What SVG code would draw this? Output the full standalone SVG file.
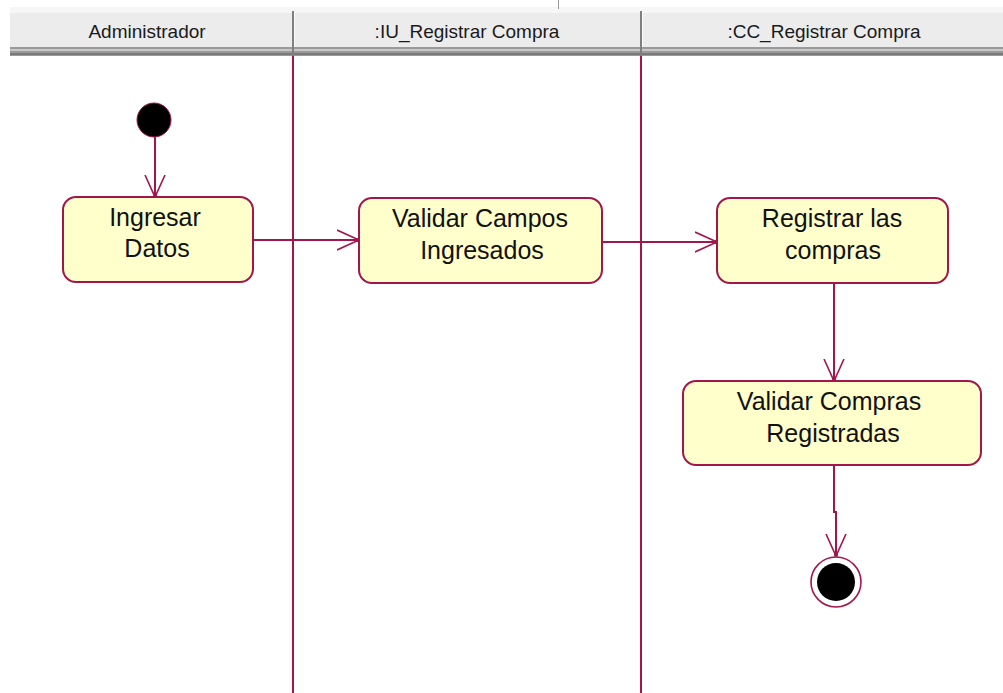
<svg xmlns="http://www.w3.org/2000/svg" width="1003" height="693" viewBox="0 0 1003 693">
  <style>
    .hdr-text { font-family: "Liberation Sans", Arial, sans-serif; font-size: 19px; fill: #1a1a1a; text-anchor: middle; }
    .lane { stroke: #a3164c; stroke-width: 2; fill: none; }
    .act { fill: #ffffcc; stroke: #a3164c; stroke-width: 2; }
    .act-text { font-family: "Liberation Sans", Arial, sans-serif; font-size: 25px; fill: #111; text-anchor: middle; }
    .flow { stroke: #a3164c; stroke-width: 2; fill: none; }
  </style>
  <defs>
    <marker id="open-arrow" viewBox="0 0 24 24" refX="22" refY="12" markerWidth="24" markerHeight="24" markerUnits="userSpaceOnUse" orient="auto">
      <path d="M0,2 L22,12 L0,22" fill="none" stroke="#a3164c" stroke-width="1.6"/>
      <circle cx="21" cy="12" r="2" fill="#a3164c"/>
    </marker>
  </defs>

  <rect width="1003" height="693" fill="#ffffff"/>

  <!-- swimlane header bar -->
  <g id="header">
    <rect x="10" y="7" width="993" height="6" fill="#f6f6f6"/>
    <rect x="10" y="13" width="993" height="35" fill="#ececec"/>
    <rect x="10" y="47" width="993" height="9" fill="#9a9a9a"/>
    <rect x="10" y="49" width="993" height="2" fill="#c8c8c8"/>
    <rect x="10" y="53" width="993" height="2" fill="#7a7a7a"/>
    <rect x="292" y="11" width="2" height="45" fill="#7f7f7f"/>
    <rect x="294" y="11" width="1" height="36" fill="#fafafa"/>
    <rect x="640" y="11" width="2" height="45" fill="#7f7f7f"/>
    <rect x="642" y="11" width="1" height="36" fill="#fafafa"/>
    <rect x="558" y="0" width="1" height="9" fill="#9a9a9a"/>
    <text class="hdr-text" x="147" y="38">Administrador</text>
    <text class="hdr-text" x="467" y="38">:IU_Registrar Compra</text>
    <text class="hdr-text" x="824" y="38">:CC_Registrar Compra</text>
  </g>

  <!-- lane separators -->
  <g id="lanes">
    <line class="lane" x1="293" y1="56" x2="293" y2="693"/>
    <line class="lane" x1="641" y1="56" x2="641" y2="693"/>
  </g>

  <!-- control flows -->
  <g id="connectors">
    <line class="flow" x1="155" y1="137" x2="155" y2="197" marker-end="url(#open-arrow)"/>
    <line class="flow" x1="253" y1="240" x2="359" y2="240" marker-end="url(#open-arrow)"/>
    <line class="flow" x1="602" y1="242" x2="717" y2="242" marker-end="url(#open-arrow)"/>
    <line class="flow" x1="834" y1="283" x2="834" y2="381" marker-end="url(#open-arrow)"/>
    <path class="flow" d="M834,465 L834,512 L836,512 L836,556" marker-end="url(#open-arrow)"/>
  </g>

  <g id="initial">
    <circle cx="154" cy="120" r="17" fill="#000" stroke="#a3164c" stroke-width="1"/>
  </g>

  <g id="ingresar-datos">
    <rect class="act" x="63" y="197" width="190" height="85" rx="13"/>
    <text class="act-text" x="155" y="226">Ingresar</text>
    <text class="act-text" x="157" y="257">Datos</text>
  </g>

  <g id="validar-campos">
    <rect class="act" x="359" y="198" width="243" height="85" rx="13"/>
    <text class="act-text" x="480" y="227">Validar Campos</text>
    <text class="act-text" x="482" y="259">Ingresados</text>
  </g>

  <g id="registrar-compras">
    <rect class="act" x="717" y="198" width="231" height="85" rx="13"/>
    <text class="act-text" x="832" y="227">Registrar las</text>
    <text class="act-text" x="833" y="259">compras</text>
  </g>

  <g id="validar-compras">
    <rect class="act" x="683" y="381" width="298" height="84" rx="13"/>
    <text class="act-text" x="829" y="410">Validar Compras</text>
    <text class="act-text" x="833" y="442">Registradas</text>
  </g>

  <g id="final">
    <circle cx="836" cy="582" r="25" fill="#ffffff" stroke="#a3164c" stroke-width="1.6"/>
    <circle cx="836" cy="582" r="19" fill="#000"/>
  </g>
</svg>
